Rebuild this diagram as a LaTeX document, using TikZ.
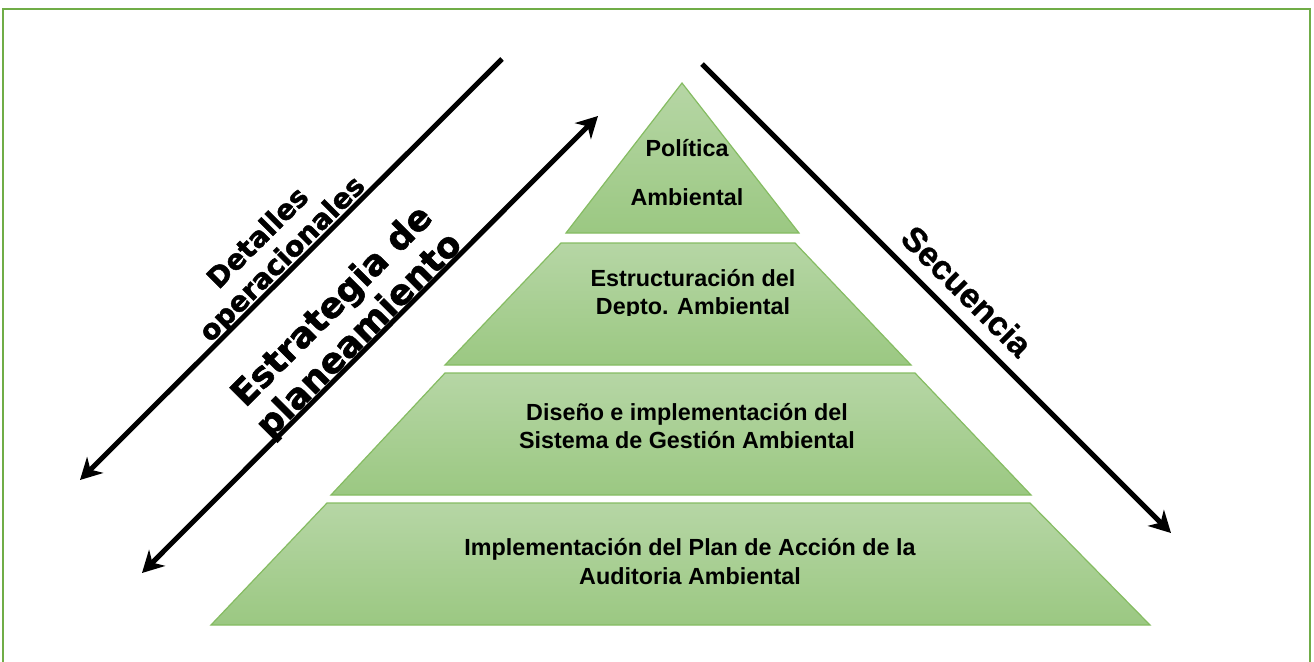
\documentclass[tikz,border=0pt]{standalone}
\usepackage{fontspec}
\setmainfont{Liberation Sans}
\newfontface\heavyfont{DejaVu Sans Bold}[FakeBold=1.6]
\newfontface\seqfont{Liberation Sans Bold}[FakeBold=0.8]
\usetikzlibrary{arrows.meta}
\definecolor{framegreen}{RGB}{112,173,71}
\definecolor{lvltop}{RGB}{182,214,165}
\definecolor{lvlbot}{RGB}{155,200,130}
\definecolor{lvledge}{RGB}{133,188,98}
\begin{document}
\begin{tikzpicture}[x=0.75pt,y=-0.75pt,
  level/.style={top color=lvltop,bottom color=lvlbot,draw=lvledge,line width=0.9pt},
  lvltext/.style={font=\bfseries\fontsize{17.5}{21}\selectfont,text=black,inner sep=0pt,anchor=base},
  sidetext/.style={font=\heavyfont\fontsize{21}{26}\selectfont,text=black,inner sep=0pt},
  bigtext/.style={font=\heavyfont\fontsize{26.5}{32}\selectfont,text=black,inner sep=0pt},
  seqtext/.style={font=\seqfont\fontsize{25.5}{30}\selectfont,text=black,inner sep=0pt},
  headtip/.tip={Stealth[length=16pt,width=17pt,inset=5pt]},
  arrowline/.style={line width=3.75pt,-headtip},
  dblarrow/.style={line width=3.75pt,headtip-headtip}]
\useasboundingbox (0,0) rectangle (1314,661);
% frame
\draw[framegreen,line width=2pt] (3,680) -- (3,9) -- (1310,9) -- (1310,680);
% pyramid levels
\shadedraw[level] (682,83) -- (799,233) -- (566,233) -- cycle;
\shadedraw[level] (561,243) -- (795,243) -- (911,365) -- (445,365) -- cycle;
\shadedraw[level] (445,373) -- (915,373) -- (1031,495) -- (331,495) -- cycle;
\shadedraw[level] (327,503) -- (1030,503) -- (1150,625) -- (211,625) -- cycle;
% level texts
\node[lvltext] (l1a) at (687,156) {Política};
\node[lvltext] (l1b) at (687,205) {Ambiental};
\begin{scope}
\clip (450,250) rectangle (900,315.5);
\node[lvltext] (l2a) at (693,286) {Estructuración del};
\node[lvltext] (l2b) at (693,314) {Depto. Ambiental};
\end{scope}
\node[lvltext] (l3a) at (687,420) {Diseño e implementación del};
\node[lvltext] (l3b) at (687,448) {Sistema de Gestión Ambiental};
\node[lvltext] (l4a) at (690,555) {Implementación del Plan de Acción de la};
\node[lvltext] (l4b) at (690,584) {Auditoria Ambiental};
% arrows
\coordinate (a1s) at (502,59);
\coordinate (a1e) at (80,480);
\coordinate (a2s) at (142,573);
\coordinate (a2e) at (598,116);
\coordinate (a3s) at (702,64);
\coordinate (a3e) at (1171,533);
\draw[arrowline] (a1s) -- (a1e);
\draw[dblarrow] (a2s) -- (a2e);
\draw[arrowline] (a3s) -- (a3e);
% rotated labels
\node[sidetext,rotate=45] (det1) at (257,237) {Detalles};
\node[sidetext,rotate=45] (det2) at (283,260) {operacionales};
\node[bigtext,rotate=45] (est1) at (333,307) {Estrategia de};
\node[bigtext,rotate=45] (est2) at (360,336) {planeamiento};
\node[seqtext,rotate=-45] (seq) at (967,291) {Secuencia};
\end{tikzpicture}
\end{document}
